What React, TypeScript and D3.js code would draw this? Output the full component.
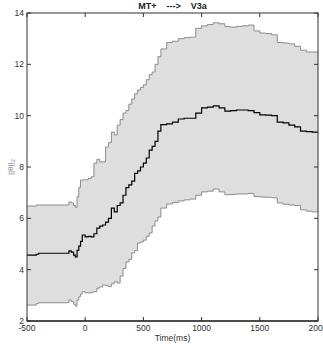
import * as d3 from "d3"

// time grid (ms) shared by the three series
const times = [
  -500, -420, -400, -160, -140, -120, -100, -85, -70, -55, -40, -25, 0, 25, 50, 75, 100, 125, 150, 175,
  200, 225, 250, 275, 300, 325, 350, 375, 400, 425, 450, 475, 500, 525, 550, 575, 600, 625, 650, 700,
  750, 800, 850, 900, 950, 1000, 1050, 1100, 1150, 1200, 1250, 1300, 1350, 1400, 1450, 1500, 1550,
  1600, 1650, 1700, 1750, 1800, 1850, 1900, 1950, 2000,
]

const meanVals = [
  4.57, 4.6, 4.64, 4.64, 4.73, 4.68, 4.57, 4.5, 4.75, 4.92, 5.1, 5.35, 5.28, 5.3, 5.28, 5.4, 5.62, 5.7, 5.74, 5.85,
  6.0, 6.4, 6.25, 6.5, 6.6, 6.9, 7.2, 7.3, 7.45, 7.75, 7.85, 8.0, 8.15, 8.35, 8.66, 8.8, 9.0, 9.4, 9.65, 9.68,
  9.75, 9.87, 9.9, 9.9, 10.1, 10.3, 10.33, 10.38, 10.3, 10.18, 10.2, 10.22, 10.22, 10.2, 10.12, 10.03, 10.02,
  10.0, 9.75, 9.72, 9.63, 9.56, 9.4, 9.38, 9.36, 9.36,
]

const upperVals = [
  6.48, 6.52, 6.52, 6.52, 6.64, 6.6, 6.5, 6.43, 6.84, 7.2, 7.49, 7.5, 7.5, 7.55, 7.62, 8.15, 8.3, 8.2, 8.2, 8.78,
  8.95, 9.36, 9.25, 9.63, 9.85, 10.1, 10.2, 10.45, 10.65, 10.85, 11.0, 11.1, 11.2, 11.4, 11.6, 11.7, 12.0, 12.3, 12.6, 12.85,
  12.9, 13.0, 13.04, 13.06, 13.4, 13.5, 13.55, 13.62, 13.58, 13.47, 13.45, 13.48, 13.5, 13.53, 13.3, 13.22, 13.2,
  13.15, 12.85, 12.83, 12.8, 12.7, 12.55, 12.48, 12.48, 12.46,
]

const lowerVals = [
  2.62, 2.68, 2.71, 2.71, 2.82, 2.76, 2.65, 2.58, 2.82, 2.95, 3.05, 3.14, 3.1, 3.09, 3.12, 3.14, 3.28, 3.33, 3.4, 3.38,
  3.34, 3.45, 3.53, 3.48, 3.75, 4.05, 4.3, 4.4, 4.65, 4.75, 5.04, 5.08, 5.15, 5.3, 5.43, 5.7, 5.9, 6.05, 6.4, 6.56,
  6.62, 6.68, 6.72, 6.75, 6.9, 7.03, 7.06, 7.14, 7.03, 6.92, 6.93, 6.95, 6.95, 6.97, 6.85, 6.83, 6.82,
  6.8, 6.6, 6.55, 6.52, 6.5, 6.33, 6.28, 6.25, 6.25,
]

const xTicks = [-500, 0, 500, 1000, 1500, 2000]
const yTicks = [2, 4, 6, 8, 10, 12, 14]

const W = 323
const H = 349
const margin = { top: 13, right: 5, bottom: 28, left: 27 }
const font = "'Liberation Sans Narrow', 'Liberation Sans', Arial, sans-serif"

export default function App() {
  const x = d3.scaleLinear().domain([-500, 2000]).range([margin.left, W - margin.right])
  const y = d3.scaleLinear().domain([2, 14]).range([H - margin.bottom, margin.top])

  const rows = times.map((t, i) => ({ t, m: meanVals[i], hi: upperVals[i], lo: lowerVals[i] }))

  const band = d3
    .area<any>()
    .x((d) => x(d.t))
    .y0((d) => y(d.lo))
    .y1((d) => y(d.hi))
    .curve(d3.curveStepAfter)

  const lineOf = (key: string) =>
    d3
      .line<any>()
      .x((d) => x(d.t))
      .y((d) => y(d[key]))
      .curve(d3.curveStepAfter)(rows)

  const [x0, x1] = x.range()
  const [yb, yt] = y.range()
  const tick = 4

  return (
    <svg width={W} height={H} style={{ position: "absolute", left: 0, top: 0 }} fontFamily={font}>
      <rect width={W} height={H} fill="#fff" />
      <path d={band(rows) || ""} fill="#dedede" stroke="none" />
      <path d={lineOf("hi") || ""} fill="none" stroke="#8c8c8c" strokeWidth={1} />
      <path d={lineOf("lo") || ""} fill="none" stroke="#8c8c8c" strokeWidth={1} />
      <path d={lineOf("m") || ""} fill="none" stroke="#000" strokeWidth={1.2} />

      {/* box */}
      <rect x={x0} y={yt} width={x1 - x0} height={yb - yt} fill="none" stroke="#333" strokeWidth={1} />
      <line x1={x0} x2={x1} y1={yb} y2={yb} stroke="#333" strokeWidth={1.6} />

      {xTicks.map((t) => (
        <g key={"x" + t}>
          <line x1={x(t)} x2={x(t)} y1={yb} y2={yb - tick} stroke="#333" />
          <line x1={x(t)} x2={x(t)} y1={yt} y2={yt + tick} stroke="#333" />
          <text x={x(t)} y={yb + 10} fontSize={8.5} textAnchor="middle" fill="#333">
            {t}
          </text>
        </g>
      ))}
      {yTicks.map((v) => (
        <g key={"y" + v}>
          <line x1={x0} x2={x0 + tick} y1={y(v)} y2={y(v)} stroke="#333" />
          <line x1={x1} x2={x1 - tick} y1={y(v)} y2={y(v)} stroke="#333" />
          <text x={x0 - 3} y={y(v) + 3} fontSize={8.5} textAnchor="end" fill="#333">
            {v}
          </text>
        </g>
      ))}

      <text x={(x0 + x1) / 2} y={9} fontSize={9} fontWeight="bold" textAnchor="middle" fill="#222">
        MT+{"\u00a0\u00a0\u00a0\u00a0"}---&gt;{"\u00a0\u00a0\u00a0\u00a0"}V3a
      </text>
      <text x={(x0 + x1) / 2} y={341} fontSize={8.5} textAnchor="middle" fill="#333">
        Time(ms)
      </text>
      <text
        transform={`translate(13,${(yt + yb) / 2}) rotate(-90)`}
        fontSize={8}
        textAnchor="middle"
        fill="#888"
      >
        ||θ||
        <tspan fontSize={6} dy={2}>
          2
        </tspan>
      </text>
    </svg>
  )
}
